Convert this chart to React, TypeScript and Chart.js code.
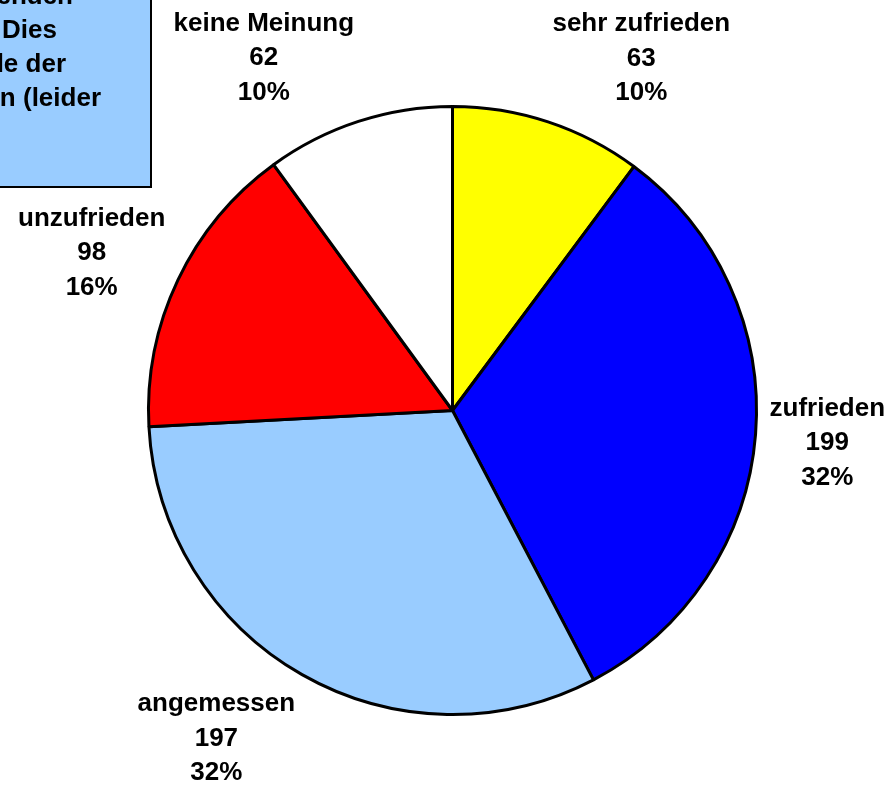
import React, { useEffect, useRef } from "react";
import { Chart, registerables } from "chart.js";

Chart.register(...registerables);

const categories = ["sehr zufrieden", "zufrieden", "angemessen", "unzufrieden", "keine Meinung"];
const counts = [63, 199, 197, 98, 62];
const sliceColors = ["#FFFF00", "#0000FF", "#99CCFF", "#FF0000", "#FFFFFF"];
const noteLines = ["enden", "Dies", "le der", "n (leider"];
const noteLineEnds = [73, 57, 66, 101];

const FONT = "bold 26px 'Liberation Sans', Arial, sans-serif";
const LINE_H = 34.5;

const labelPlugin = {
  id: "outsideLabels",
  afterDraw(chart: any) {
    const ctx = chart.ctx;
    const meta = chart.getDatasetMeta(0);
    const total = counts.reduce((a, b) => a + b, 0);
    ctx.save();
    ctx.font = FONT;
    ctx.fillStyle = "#000";
    ctx.textAlign = "center";
    ctx.textBaseline = "middle";
    meta.data.forEach((arc: any, i: number) => {
      const { x, y, startAngle, endAngle, outerRadius } = arc.getProps(
        ["x", "y", "startAngle", "endAngle", "outerRadius"],
        true
      );
      const mid = (startAngle + endAngle) / 2;
      const dx = Math.cos(mid);
      const dy = Math.sin(mid);
      const gap = 14;
      const px = x + (outerRadius + gap) * dx;
      const py = y + (outerRadius + gap) * dy;
      const lines = [categories[i], String(counts[i]), Math.round((counts[i] / total) * 100) + "%"];
      const w = Math.max(...lines.map((l) => ctx.measureText(l).width));
      const h = lines.length * LINE_H;
      const cx = px + Math.sign(dx) * (w / 2);
      const cy = py + dy * (h / 2) * 1.08 + 3;
      lines.forEach((l, k) => {
        ctx.fillText(l, cx, cy + (k - 1) * LINE_H);
      });
    });

    // note box at top-left (clipped)
    ctx.fillStyle = "#000";
    ctx.fillRect(-5, -5, 157, 193);
    ctx.fillStyle = "#99CCFF";
    ctx.fillRect(-5, -5, 155, 191);
    ctx.fillStyle = "#000";
    ctx.textAlign = "right";
    noteLines.forEach((l, k) => {
      ctx.fillText(l, noteLineEnds[k], -3 + k * 34);
    });
    ctx.restore();
  },
};

export default function App() {
  const ref = useRef<HTMLCanvasElement | null>(null);
  useEffect(() => {
    document.body.style.margin = "0";
    const c = ref.current;
    if (!c) return;
    const chart = new Chart(c, {
      type: "pie",
      data: {
        labels: categories,
        datasets: [
          {
            data: counts,
            backgroundColor: sliceColors,
            borderColor: "#000000",
            borderWidth: 3,
          },
        ],
      },
      options: {
        responsive: false,
        animation: false,
        devicePixelRatio: 1,
        layout: { padding: { left: 147, right: 132, top: 105, bottom: 73 } },
        plugins: {
          legend: { display: false },
          tooltip: { enabled: false },
        },
      },
      plugins: [labelPlugin],
    });
    return () => chart.destroy();
  }, []);
  return (
    <div style={{ position: "fixed", left: 0, top: 0, width: 890, height: 789, background: "#fff" }}>
      <canvas ref={ref} width={890} height={789} />
    </div>
  );
}
